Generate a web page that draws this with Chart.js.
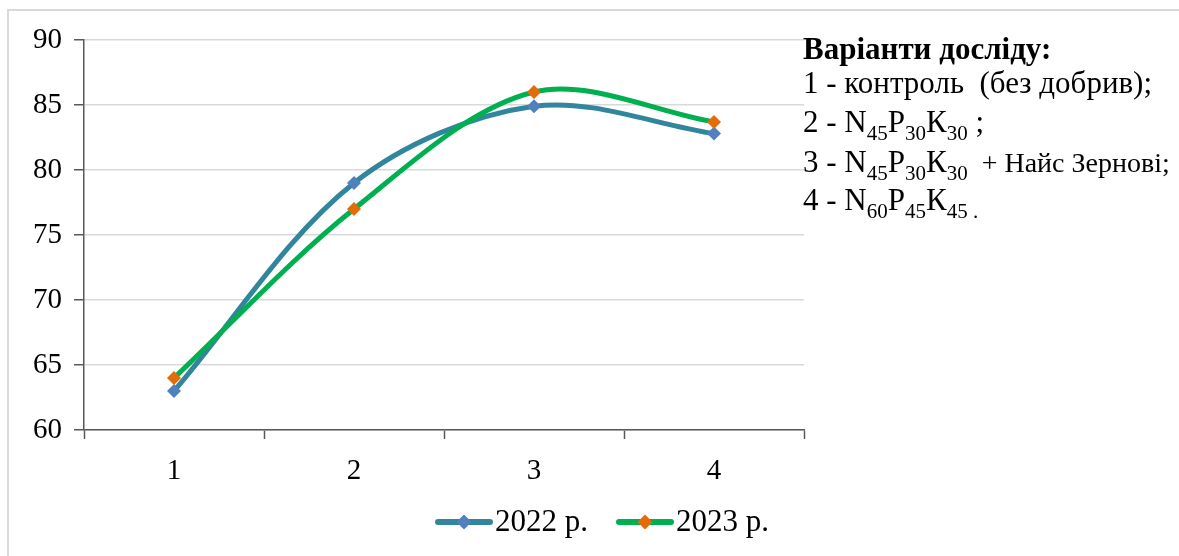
<!DOCTYPE html>
<html>
<head>
<meta charset="utf-8">
<script src="https://cdn.jsdelivr.net/npm/chart.js@4/dist/chart.umd.min.js"></script>
<style>
  html, body { margin: 0; padding: 0; background: #ffffff; }
  #wrap { position: relative; width: 1179px; height: 556px; }
</style>
</head>
<body>
<div id="wrap"><canvas id="chart" width="1179" height="556"></canvas></div>
<script>
// Categories (experiment variants) and yields per year
const categories = ['1', '2', '3', '4'];
const series2022 = [63.0, 79.0, 84.9, 82.8];
const series2023 = [64.0, 77.0, 86.0, 83.7];
const yTicks = { min: 60, max: 90, step: 5 };
const seriesNames = ['2022 р.', '2023 р.'];

// Notes block: each line is a list of [text, kind] runs (n = normal, s = subscript, m = smaller)
const notesTitle = 'Варіанти досліду:';
const notesLines = [
  [['1 - контроль  (без добрив);', 'n']],
  [['2 - N', 'n'], ['45', 's'], ['P', 'n'], ['30', 's'], ['К', 'n'], ['30', 's'], [' ;', 'n']],
  [['3 - N', 'n'], ['45', 's'], ['P', 'n'], ['30', 's'], ['К', 'n'], ['30', 's'], ['  + Найс Зернові;', 'm']],
  [['4 - N', 'n'], ['60', 's'], ['P', 'n'], ['45', 's'], ['К', 'n'], ['45', 's'], [' .', 's']]
];

const FONT = '"Liberation Serif", "Times New Roman", serif';
const LINE_2022 = '#31859C', MARK_2022 = '#4F81BD';
const LINE_2023 = '#00B050', MARK_2023 = '#E36C09';

function diamond(ctx, x, y, r, color) {
  ctx.beginPath();
  ctx.moveTo(x, y - r); ctx.lineTo(x + r, y); ctx.lineTo(x, y + r); ctx.lineTo(x - r, y);
  ctx.closePath();
  ctx.fillStyle = color; ctx.fill();
}

const decorations = {
  id: 'decorations',
  beforeDraw(chart) {
    const ctx = chart.ctx;
    ctx.save();
    ctx.fillStyle = '#ffffff';
    ctx.fillRect(0, 0, chart.width, chart.height);
    ctx.strokeStyle = '#d9d9d9';
    ctx.lineWidth = 2;
    ctx.strokeRect(8, 10, 2000, 2000);
    ctx.restore();
  },
  afterDraw(chart) {
    const ctx = chart.ctx;
    ctx.save();
    ctx.textBaseline = 'alphabetic';
    ctx.fillStyle = '#000000';
    // Notes block
    const x0 = 803;
    ctx.font = 'bold 31px ' + FONT;
    ctx.fillText(notesTitle, x0, 59);
    const baselines = [93, 132, 172, 210];
    notesLines.forEach((runs, i) => {
      let x = x0;
      const y = baselines[i];
      runs.forEach(([t, kind]) => {
        let dy = 0;
        if (kind === 's') { ctx.font = '21px ' + FONT; dy = 8; }
        else if (kind === 'm') { ctx.font = '28px ' + FONT; }
        else { ctx.font = '31px ' + FONT; }
        ctx.fillText(t, x, y + dy);
        x += ctx.measureText(t).width;
      });
    });
    // Legend
    const items = [
      { name: seriesNames[0], line: LINE_2022, mark: MARK_2022, x: 436 },
      { name: seriesNames[1], line: LINE_2023, mark: MARK_2023, x: 617 }
    ];
    const ly = 522;
    items.forEach(it => {
      ctx.strokeStyle = it.line;
      ctx.lineWidth = 6;
      ctx.lineCap = 'round';
      ctx.beginPath();
      ctx.moveTo(it.x + 2, ly); ctx.lineTo(it.x + 54, ly);
      ctx.stroke();
      diamond(ctx, it.x + 28, ly, 7.5, it.mark);
      ctx.font = '31px ' + FONT;
      ctx.fillStyle = '#000000';
      ctx.textBaseline = 'middle';
      ctx.fillText(it.name, it.x + 59, ly + 1);
    });
    ctx.restore();
  }
};

new Chart(document.getElementById('chart'), {
  type: 'line',
  data: {
    labels: categories,
    datasets: [
      {
        label: seriesNames[0], data: series2022, order: 1,
        borderColor: LINE_2022, borderWidth: 5, tension: 0.33,
        pointStyle: 'rectRot', pointRadius: 7, pointBorderWidth: 0,
        pointBackgroundColor: MARK_2022, pointBorderColor: MARK_2022, fill: false
      },
      {
        label: seriesNames[1], data: series2023, order: 0,
        borderColor: LINE_2023, borderWidth: 5, tension: 0.33,
        pointStyle: 'rectRot', pointRadius: 7, pointBorderWidth: 0,
        pointBackgroundColor: MARK_2023, pointBorderColor: MARK_2023, fill: false
      }
    ]
  },
  plugins: [decorations],
  options: {
    responsive: false,
    animation: false,
    events: [],
    layout: { padding: { left: 0, right: 375, top: 40, bottom: 0 } },
    plugins: { legend: { display: false }, tooltip: { enabled: false } },
    scales: {
      x: {
        offset: true,
        grid: { offset: true, drawOnChartArea: false, drawTicks: true, tickLength: 9, tickColor: '#595959', tickWidth: 1.5 },
        border: { display: true, color: '#595959', width: 1.5 },
        ticks: { font: { family: FONT, size: 29 }, color: '#000000', padding: 15, maxRotation: 0 },
        afterFit(s) { s.height = 126; }
      },
      y: {
        min: yTicks.min, max: yTicks.max,
        grid: { color: '#d9d9d9', lineWidth: 1.5, drawTicks: true, tickLength: 10, tickColor: '#595959', tickWidth: 1.5 },
        border: { display: true, color: '#595959', width: 1.5 },
        ticks: { stepSize: yTicks.step, font: { family: FONT, size: 29 }, color: '#000000', padding: 12 },
        afterFit(s) { s.width = 84; }
      }
    }
  }
});
</script>
</body>
</html>
